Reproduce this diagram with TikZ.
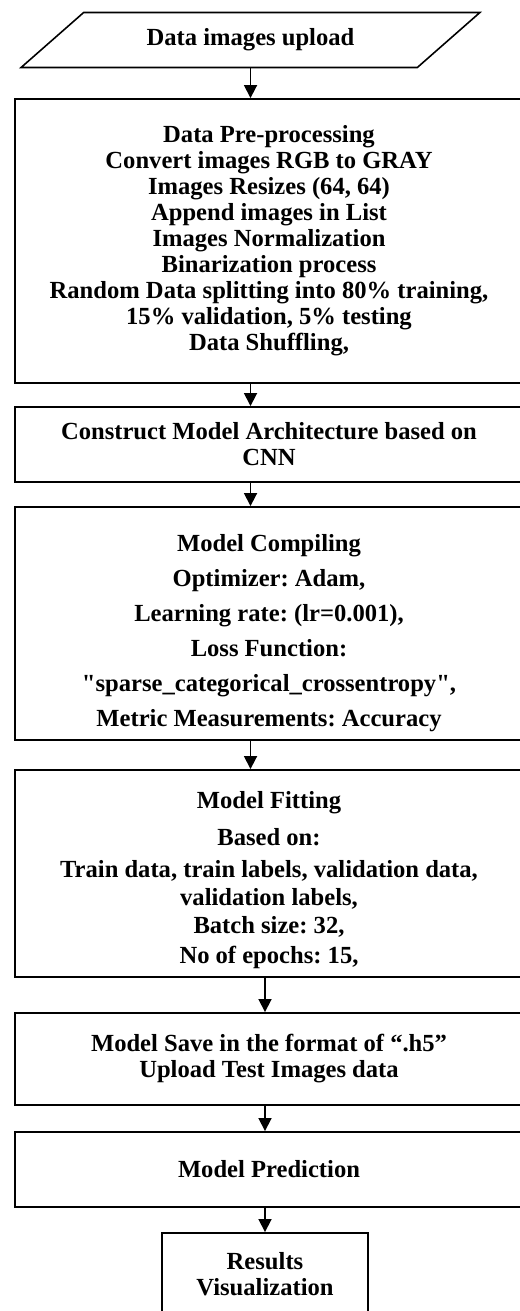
\documentclass[tikz,border=0pt]{standalone}
\usepackage{fontspec}
\setmainfont{Liberation Serif}[Ligatures=TeXOff]
\usetikzlibrary{arrows.meta, positioning, shapes.geometric}
\frenchspacing

\begin{document}
\begin{tikzpicture}[
    x=0.02cm, y=-0.02cm,
    stage/.style={draw, line width=1.1pt, minimum width=10.16cm, inner sep=0pt, align=center, font=\bfseries\fontsize{14}{14.8}\selectfont},
    uploadbox/.style={draw, line width=0.9pt, trapezium, trapezium left angle=30, trapezium right angle=150, trapezium stretches=true, minimum width=9.18cm, minimum height=1.1cm, inner sep=0pt, font=\bfseries\fontsize{14}{14.8}\selectfont},
    flow/.style={-{Triangle[length=0.26cm, width=0.26cm]}, line width=1pt}
]
\useasboundingbox (0,0) rectangle (520,1311);

% Input
\node[uploadbox] (upload) at (250.5,40) {Data images upload};

% Pre-processing
\node[stage, minimum height=5.68cm] (prep) at (269,241) {Data Pre-processing\\
    Convert images RGB to GRAY\\
    Images Resizes (64, 64)\\
    Append images in List\\
    Images Normalization\\
    Binarization process\\
    Random Data splitting into 80\% training,\\
    15\% validation, 5\% testing\\
    Data Shuffling,};

% Architecture
\node[stage, minimum height=1.5cm] (arch) at (269,444.5) {Construct Model Architecture based on\\CNN};

% Compiling
\node[stage, minimum height=4.66cm, font=\bfseries\fontsize{14}{19.9}\selectfont] (compile) at (269,623.5) {\rule{0pt}{21pt}Model Compiling\\
    Optimizer: Adam,\\
    Learning rate: (lr=0.001),\\
    Loss Function:\\
    "sparse\_categorical\_crossentropy",\\
    Metric Measurements: Accuracy};

% Fitting
\node[stage, minimum height=4.14cm, font=\bfseries\fontsize{14}{16}\selectfont] (fit) at (269,873.5) {\rule{0pt}{17pt}Model Fitting\\[5pt]
    Based on:\\[2pt]
    Train data, train labels, validation data,\\
    validation labels,\\
    Batch size: 32,\\[1pt]
    No of epochs: 15,};

% Save
\node[stage, minimum height=1.84cm] (save) at (269,1059) {Model Save in the format of “.h5”\\
    Upload Test Images data};

% Prediction
\node[stage, minimum height=1.5cm] (predict) at (269,1169.5) {Model Prediction};

% Results
\node[stage, minimum width=4.12cm, minimum height=1.64cm] (results) at (265,1274) {Results\\Visualization};

% Connectors
\draw[flow] (upload.south) -- (prep.north -| upload.south);
\draw[flow] (prep.south -| upload.south) -- (arch.north -| upload.south);
\draw[flow] (arch.south -| upload.south) -- (compile.north -| upload.south);
\draw[flow] (compile.south -| upload.south) -- (fit.north -| upload.south);
\draw[flow] (fit.south -| results.north) -- (save.north -| results.north);
\draw[flow] (save.south -| results.north) -- (predict.north -| results.north);
\draw[flow] (predict.south -| results.north) -- (results.north);
\end{tikzpicture}
\end{document}
